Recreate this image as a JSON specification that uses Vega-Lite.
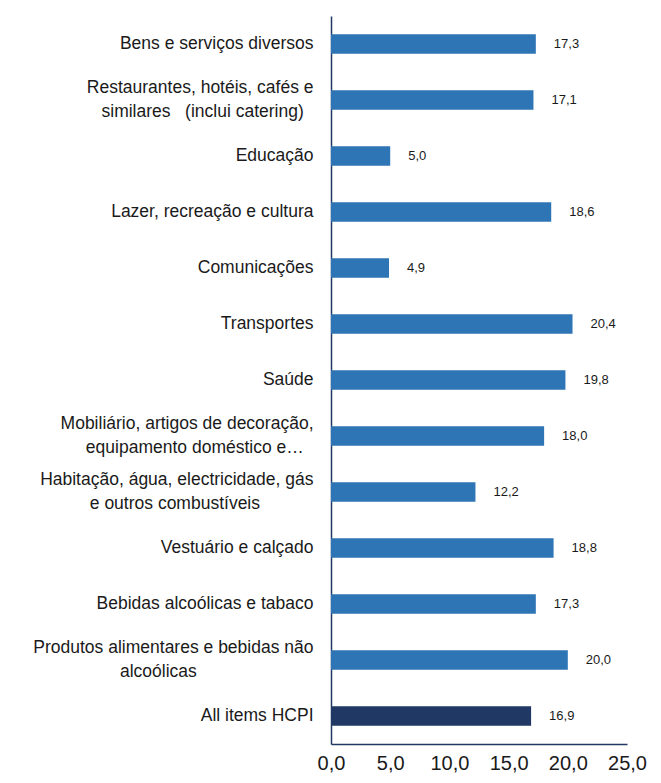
{
  "$schema": "https://vega.github.io/schema/vega-lite/v6.json",
  "autosize": {"type": "none"},
  "width": 296,
  "height": 728,
  "padding": {"left": 331, "top": 16, "right": 34, "bottom": 39},
  "background": "white",
  "config": {
    "view": {"stroke": null},
    "font": "Liberation Sans",
    "locale": {"number": {"decimal": ",", "thousands": ".", "grouping": [3], "currency": ["", " €"]}}
  },
  "data": {
    "values": [
      {"cat": "Bens e serviços diversos", "value": 17.3, "group": "cat"},
      {"cat": "Restaurantes, hotéis, cafés e|similares\u00a0\u00a0\u00a0(inclui catering)\u00a0\u00a0\u200b", "value": 17.1, "group": "cat"},
      {"cat": "Educação", "value": 5.0, "group": "cat"},
      {"cat": "Lazer, recreação e cultura", "value": 18.6, "group": "cat"},
      {"cat": "Comunicações", "value": 4.9, "group": "cat"},
      {"cat": "Transportes", "value": 20.4, "group": "cat"},
      {"cat": "Saúde", "value": 19.8, "group": "cat"},
      {"cat": "Mobiliário, artigos de decoração,|equipamento doméstico e…\u00a0\u00a0\u200b", "value": 18.0, "group": "cat"},
      {"cat": "Habitação, água, electricidade, gás|e outros combustíveis\u00a0\u00a0\u00a0\u00a0\u00a0\u00a0\u00a0\u00a0\u00a0\u00a0\u00a0\u200b", "value": 12.2, "group": "cat"},
      {"cat": "Vestuário e calçado", "value": 18.8, "group": "cat"},
      {"cat": "Bebidas alcoólicas e tabaco", "value": 17.3, "group": "cat"},
      {"cat": "Produtos alimentares e bebidas não|alcoólicas\u00a0\u00a0\u00a0\u00a0\u00a0\u00a0\u00a0\u00a0\u00a0\u00a0\u00a0\u00a0\u00a0\u00a0\u00a0\u00a0\u00a0\u00a0\u00a0\u00a0\u00a0\u00a0\u00a0\u00a0\u200b", "value": 20.0, "group": "cat"},
      {"cat": "All items HCPI", "value": 16.9, "group": "total"}
    ]
  },
  "encoding": {
    "y": {
      "field": "cat",
      "type": "nominal",
      "sort": null,
      "scale": {"paddingInner": 0.65, "paddingOuter": 0.325},
      "axis": {
        "title": null,
        "ticks": false,
        "domainColor": "#1F3864",
        "domainWidth": 1.5,
        "labelPadding": 18,
        "labelFontSize": 17.5,
        "labelColor": "#1a1a1a",
        "labelLineHeight": 24,
        "labelLimit": 400,
        "labelOffset": {"condition": {"test": "indexof(datum.value, '|') >= 0", "value": -12}, "value": 0},
        "labelExpr": "split(datum.value, '|')"
      }
    }
  },
  "layer": [
    {
      "mark": {"type": "bar"},
      "encoding": {
        "x": {
          "field": "value",
          "type": "quantitative",
          "scale": {"domain": [0, 25], "nice": false},
          "axis": {
            "title": null,
            "values": [0, 5, 10, 15, 20, 25],
            "format": ".1f",
            "grid": false,
            "ticks": false,
            "domainColor": "#1F3864",
            "domainWidth": 1.5,
            "labelFontSize": 20,
            "labelPadding": 9,
            "labelColor": "#1a1a1a",
            "labelFlush": false,
            "labelOverlap": false
          }
        },
        "color": {
          "field": "group",
          "type": "nominal",
          "scale": {"domain": ["cat", "total"], "range": ["#2E75B6", "#203864"]},
          "legend": null
        }
      }
    },
    {
      "mark": {"type": "text", "align": "left", "baseline": "middle", "dx": 18, "fontSize": 13, "color": "#1a1a1a"},
      "encoding": {
        "x": {"field": "value", "type": "quantitative"},
        "text": {"field": "value", "type": "quantitative", "format": ".1f"}
      }
    }
  ]
}
